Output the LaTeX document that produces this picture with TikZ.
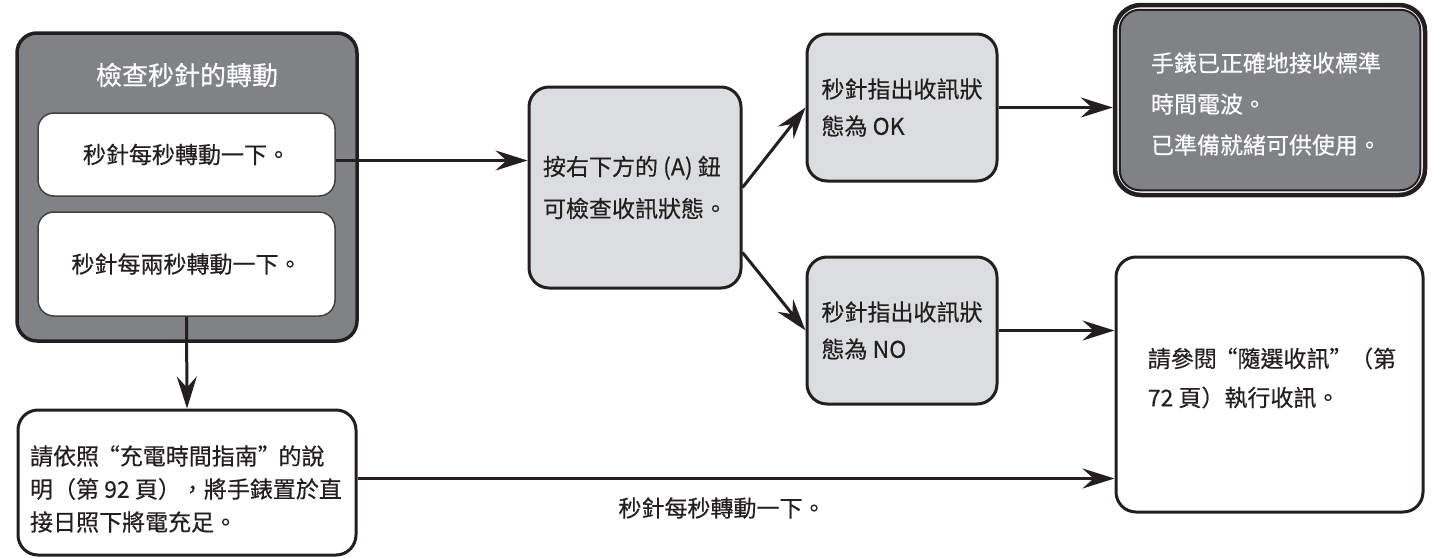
\documentclass[tikz,border=0pt]{standalone}
\usepackage{fontspec}
\setmainfont{Noto Sans CJK TC}[FakeBold=0.4]
\usetikzlibrary{arrows.meta,calc}
\definecolor{dk}{RGB}{128,130,133}
\definecolor{lt}{RGB}{220,221,223}
\definecolor{ink}{RGB}{35,31,32}
\newcommand{\oq}{\makebox[0.9em][r]{“}}
\newcommand{\cq}{\makebox[0.9em][l]{”}}
\begin{document}
\begin{tikzpicture}[x=1pt,y=-1pt,
  box/.style={draw=ink, line width=3pt, rounded corners=20pt, inner sep=0pt, align=left,
    font=\fontsize{23}{40}\selectfont, text=ink},
  graybox/.style={box, fill=lt},
  whitebox/.style={box, fill=white},
  innerbox/.style={box, fill=white, draw=ink!85, line width=1.5pt, rounded corners=16pt},
  conn/.style={draw=ink, line width=3pt},
  arr/.style={conn, -{Stealth[length=32pt,width=20pt,inset=11pt]}},
  lbl/.style={font=\fontsize{23}{26}\selectfont, text=ink, inner sep=0pt}
]
\useasboundingbox (0,0) rectangle (1432,557);

% left group
\node[box, fill=dk, line width=3.5pt, minimum width=340pt, minimum height=308pt] (outer) at (187,187) {};
\node[lbl, text=white, font=\fontsize{26}{30}\selectfont] (title) at (187,75) {檢查秒針的轉動};
\node[innerbox, minimum width=297pt, minimum height=83pt] (b1) at (186.5,154.5) {秒針每秒轉動一下。};
\node[innerbox, minimum width=297pt, minimum height=104pt] (b2) at (186.5,264) {秒針每兩秒轉動一下。};

% middle
\node[graybox, minimum width=212pt, minimum height=201pt] (A) at (635,187.5) {按右下方的 (A) 鈕\\[2pt]可檢查收訊狀態。};
\node[graybox, minimum width=190pt, minimum height=147pt] (ok) at (902,107.5) {秒針指出收訊狀\\[-3pt]態為 OK};
\node[graybox, minimum width=190pt, minimum height=147pt] (no) at (902,330.5) {秒針指出收訊狀\\[-3pt]態為 NO};

% final (double border)
\node[whitebox, line width=4.5pt, rounded corners=26pt, minimum width=310pt, minimum height=190pt] (fin) at (1270,100) {};
\draw[draw=ink, fill=dk, line width=2pt, rounded corners=20pt]
  ([shift={(7pt,-7pt)}]fin.north west) rectangle ([shift={(-7pt,7pt)}]fin.south east);
\node[lbl, text=white, align=left, font=\fontsize{23}{41}\selectfont] (fintext) at (1266,104) {手錶已正確地接收標準\\時間電波。\\已準備就緒可供使用。};

% right box
\node[whitebox, minimum width=307pt, minimum height=255pt] (rb) at (1269.5,384.5) {};
\node[lbl, align=left, font=\fontsize{23}{39}\selectfont] (rbtext) at (1272,378) {請參閱\oq 隨選收訊\cq（第\\72 頁）執行收訊。};

% bottom left
\node[whitebox, minimum width=338pt, minimum height=145pt] (bl) at (187,482.5) {};
\node[lbl, align=left, font=\fontsize{23}{33}\selectfont] (bltext) at (186,489) {請依照\oq 充電時間指南\cq 的說\\明（第 92 頁），將手錶置於直\\接日照下將電充足。};

% connectors
\coordinate (c1) at ([yshift=-6pt]b1.east);
\draw[arr] (c1) -- (c1 -| A.west);
\draw[arr] (A.east) -- (ok.west);
\draw[arr] ([yshift=-65pt]A.east) -- (no.west);
\draw[arr] (ok.east) -- (ok.east -| fin.west);
\draw[arr] (no.east) -- (no.east -| rb.west);
\draw[arr] (b2.south) -- (bl.north);
\draw[arr] ([yshift=4pt]bl.east) -- ([yshift=4pt]bl.east -| rb.west);
\node[lbl] (botlbl) at (722,508) {秒針每秒轉動一下。};
\end{tikzpicture}
\end{document}
